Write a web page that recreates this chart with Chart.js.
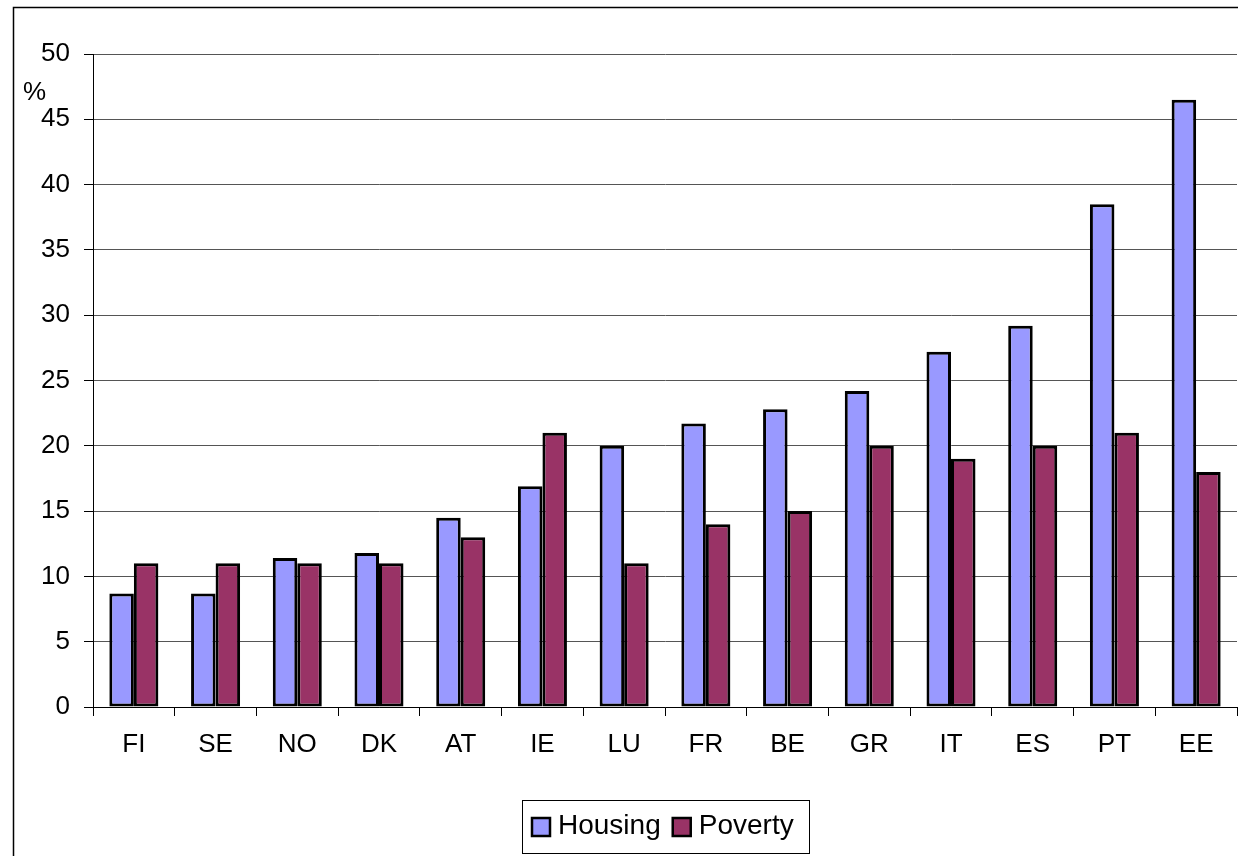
<!DOCTYPE html>
<html>
<head>
<meta charset="utf-8">
<script src="https://cdn.jsdelivr.net/npm/chart.js@4/dist/chart.umd.min.js"></script>
<style>
    body { margin: 0; background: #fff; }
    #wrap { width: 1238px; height: 856px; position: relative; }
</style>
</head>
<body>
<div id="wrap"><canvas id="chart"></canvas></div>
<script>
const countries = ["FI", "SE", "NO", "DK", "AT", "IE", "LU", "FR", "BE", "GR", "IT", "ES", "PT", "EE"];
const housing = [8.7, 8.7, 11.4, 11.8, 14.5, 16.9, 20, 21.7, 22.8, 24.2, 27.2, 29.2, 38.5, 46.5];
const poverty = [11, 11, 11, 11, 13, 21, 11, 14, 15, 20, 19, 20, 21, 18];
const seriesNames = ["Housing", "Poverty"];
const yTicks = [0, 5, 10, 15, 20, 25, 30, 35, 40, 45, 50];

Chart.defaults.font.family = "'Liberation Sans', Arial, sans-serif";
Chart.defaults.color = "#000";

// frame round the chart, the "%" unit and the boxed legend
const decorations = {
    id: "decorations",
    beforeDraw(chart) {
        const c = chart.ctx;
        c.save();
        c.fillStyle = "#fff";
        c.fillRect(0, 0, chart.width, chart.height);
        c.strokeStyle = "#000";
        c.lineWidth = 1.5;
        c.beginPath();
        c.moveTo(13.5, chart.height);
        c.lineTo(13.5, 7.5);
        c.lineTo(chart.width, 7.5);
        c.stroke();
        c.restore();
    },
    afterDraw(chart) {
        const c = chart.ctx;
        const y = chart.scales.y;
        c.save();
        c.font = "26px 'Liberation Sans', Arial, sans-serif";
        c.fillStyle = "#000";
        c.textBaseline = "alphabetic";
        c.textAlign = "left";
        c.fillText("%", 23, y.top + 46);

        // legend
        const box = {x: 522, y: 800, w: 287, h: 53};
        c.strokeStyle = "#000";
        c.lineWidth = 1;
        c.strokeRect(box.x + 0.5, box.y + 0.5, box.w, box.h);
        c.font = "28px 'Liberation Sans', Arial, sans-serif";
        c.textBaseline = "middle";
        let x = box.x + 10;
        chart.data.datasets.forEach(ds => {
            c.fillStyle = ds.backgroundColor;
            c.fillRect(x, 818, 18, 18);
            c.lineWidth = 2.5;
            c.strokeRect(x, 818, 18, 18);
            c.fillStyle = "#000";
            c.fillText(ds.label, x + 26, 826);
            x += 26 + c.measureText(ds.label).width + 12;
        });
        c.restore();
    }
};

const config = {
    type: "bar",
    data: {
        labels: countries,
        datasets: [{
            label: seriesNames[0],
            data: housing,
            backgroundColor: "#9999FF",
            borderColor: "#000",
            borderWidth: 3,
            borderSkipped: false
        }, {
            label: seriesNames[1],
            data: poverty,
            backgroundColor: "#993366",
            borderColor: "#000",
            borderWidth: 3,
            borderSkipped: false
        }]
    },
    options: {
        responsive: true,
        maintainAspectRatio: false,
        animation: false,
        events: [],
        categoryPercentage: 0.6,
        barPercentage: 1.0,
        layout: {
            padding: {left: 0, top: 54, right: 1, bottom: 89}
        },
        plugins: {
            legend: {display: false},
            tooltip: {enabled: false}
        },
        scales: {
            x: {
                afterFit(scale) { scale.height = 60; },
                grid: {
                    offset: true,
                    drawOnChartArea: false,
                    drawTicks: true,
                    tickLength: 9,
                    color: "#000"
                },
                border: {color: "#000", width: 1},
                ticks: {
                    font: {size: 26},
                    padding: 13,
                    maxRotation: 0
                }
            },
            y: {
                min: 0,
                max: 50,
                afterFit(scale) { scale.width = 93; },
                afterBuildTicks(scale) {
                    scale.ticks = yTicks.map(v => ({value: v}));
                },
                grid: {
                    color: "#555",
                    lineWidth: 1,
                    tickLength: 9,
                    tickColor: "#000"
                },
                border: {color: "#000", width: 1},
                ticks: {
                    font: {size: 26},
                    padding: 14
                }
            }
        }
    },
    plugins: [decorations]
};

new Chart(document.getElementById("chart"), config);
</script>
</body>
</html>
